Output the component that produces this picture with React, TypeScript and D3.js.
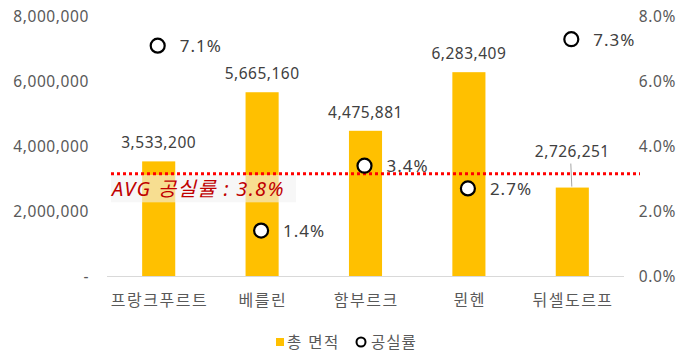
import React from 'react';
import * as d3 from 'd3';

const cities = ['프랑크푸르트', '베를린', '함부르크', '뮌헨', '뒤셀도르프'];
const totalArea = [3533200, 5665160, 4475881, 6283409, 2726251];
const vacancyRate = [7.1, 1.4, 3.4, 2.7, 7.3];
const leftTicks = [0, 2000000, 4000000, 6000000, 8000000];
const rightTicks = [0, 2, 4, 6, 8];
const avgLinePos = 3.15;
const avgLabel = 'AVG 공실률 : 3.8%';
const legendLabels = ['총 면적', '공실률'];

const W = 688;
const H = 358;
const FONT = '"Noto Sans", "Noto Sans CJK KR", sans-serif';

export default function App() {
  const left = 107;
  const right = 624;
  const y0 = 276;
  const yTop = 16.5;

  const x = d3.scaleBand<string>().domain(cities).range([left, right]).paddingInner(0.68).paddingOuter(0.34);
  const yL = d3.scaleLinear().domain([0, 8000000]).range([y0, yTop]);
  const yR = d3.scaleLinear().domain([0, 8]).range([y0, yTop]);
  const fmt = d3.format(',');
  const bw = x.bandwidth();
  const avgY = yR(avgLinePos);

  return (
    <svg width={W} height={H} style={{ position: 'absolute', left: 0, top: 0, fontFamily: FONT }}>
      <rect width={W} height={H} fill="#fff" />
      {/* left axis labels */}
      {leftTicks.map((t) => (
        <text key={'l' + t} x={89} y={yL(t)} dy="0.36em" textAnchor="end" fontSize={15.5} fill="#595959" letterSpacing={0.6}>
          {t === 0 ? '-' : fmt(t)}
        </text>
      ))}
      {/* right axis labels */}
      {rightTicks.map((t) => (
        <text key={'r' + t} x={676} y={yR(t)} dy="0.36em" textAnchor="end" fontSize={15.5} fill="#595959" letterSpacing={0.6}>
          {d3.format('.1f')(t) + '%'}
        </text>
      ))}
      {/* bars */}
      {cities.map((c, i) => (
        <rect key={'b' + c} x={x(c)} y={yL(totalArea[i])} width={bw} height={y0 - yL(totalArea[i])} fill="#FFC000" />
      ))}
      {/* baseline */}
      <line x1={left} x2={right} y1={y0 + 0.5} y2={y0 + 0.5} stroke="#D9D9D9" strokeWidth={1} />
      {/* bar value labels */}
      {cities.map((c, i) => {
        const cx = (x(c) as number) + bw / 2;
        const top = yL(totalArea[i]);
        const lifted = i === 4;
        const ly = lifted ? top - 31 : top - 13;
        return (
          <g key={'v' + c}>
            {lifted && <line x1={cx - 1.5} y1={top - 24} x2={cx - 0.5} y2={top - 1} stroke="#A6A6A6" strokeWidth={1} />}
            <text x={cx} y={ly} textAnchor="middle" fontSize={15.5} fill="#404040" letterSpacing={0.5}>
              {fmt(totalArea[i])}
            </text>
          </g>
        );
      })}
      {/* avg label box + line */}
      <rect x={111} y={avgY + 1} width={185} height={27.5} fill="rgb(242,242,242)" fillOpacity={0.6} />
      <line x1={111} x2={640} y1={avgY} y2={avgY} stroke="#FF0000" strokeWidth={3} strokeDasharray="3 3" />
      <text x={112} y={avgY + 22} fontSize={20} fontStyle="italic" fill="#C00000" letterSpacing={1.3}>
        {avgLabel}
      </text>
      {/* vacancy markers */}
      {cities.map((c, i) => {
        const cx = (x(c) as number) + bw / 2 - 1;
        const cy = yR(vacancyRate[i]);
        return (
          <g key={'p' + c}>
            <circle cx={cx} cy={cy} r={7} fill="#fff" stroke="#000" strokeWidth={2.2} />
            <text x={cx + 22} y={cy} dy="0.38em" fontSize={17} fill="#404040" letterSpacing={1}>
              {d3.format('.1f')(vacancyRate[i]) + '%'}
            </text>
          </g>
        );
      })}
      {/* legend */}
      <rect x={276} y={338} width={8} height={8} fill="#FFC000" />
      <text x={287} y={342} dy="0.36em" fontSize={15.5} fill="#595959" letterSpacing={1.5}>
        {legendLabels[0]}
      </text>
      <circle cx={361} cy={342} r={4.5} fill="#fff" stroke="#000" strokeWidth={2} />
      <text x={371} y={342} dy="0.36em" fontSize={15.5} fill="#595959" letterSpacing={1}>
        {legendLabels[1]}
      </text>
      {/* category labels */}
      {cities.map((c) => (
        <text key={'c' + c} x={(x(c) as number) + bw / 2 + 0.75} y={300} dy="0.36em" textAnchor="middle" fontSize={16} fill="#595959" letterSpacing={1.5}>
          {c}
        </text>
      ))}
    </svg>
  );
}
